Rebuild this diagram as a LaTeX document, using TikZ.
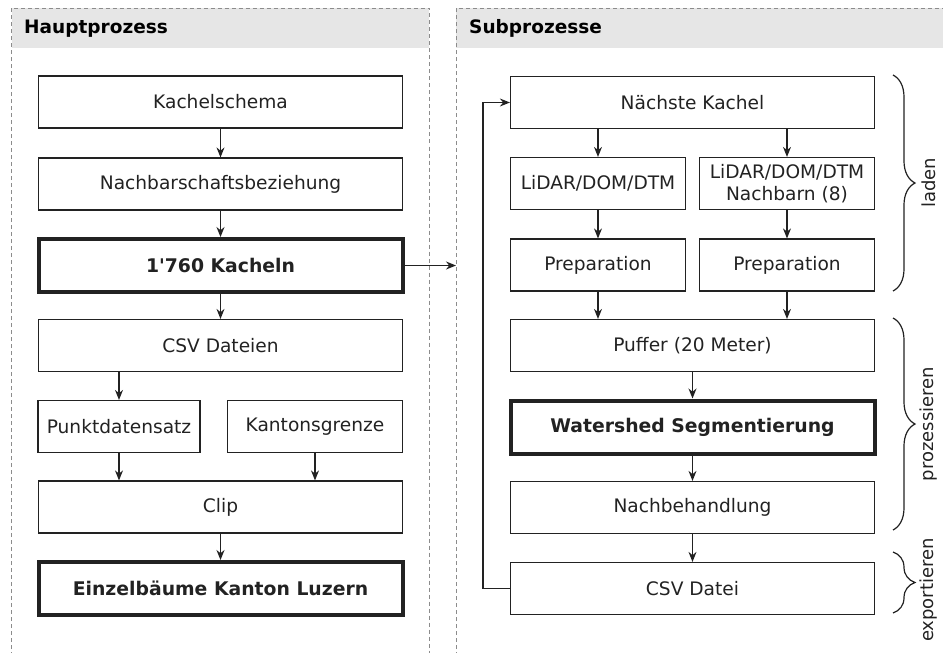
\documentclass[tikz,border=0pt]{standalone}
\usepackage{fontspec}
\setmainfont{DejaVu Sans}
\usetikzlibrary{arrows.meta, decorations.pathreplacing}

\definecolor{ink}{HTML}{222222}
\definecolor{headgray}{HTML}{E6E6E6}
\tikzset{
  box/.style={draw=ink, line width=1.2pt, minimum height=52pt, inner sep=0pt, text=ink, align=center, font=\fontsize{18.6}{22}\selectfont},
  mainbox/.style={box, line width=4pt, minimum height=53pt, font=\fontsize{18.8}{22}\selectfont\bfseries},
  flow/.style={-{Stealth[length=10pt,width=8pt]}, line width=1.3pt, ink},
  lane/.style={draw=black!45, dash pattern=on 4pt off 3pt, line width=0.8pt},
  lanetitle/.style={anchor=west, inner sep=0pt, text=black, font=\fontsize{18.5}{22}\selectfont\bfseries},
  phase/.style={decorate, decoration={brace, amplitude=22pt}, line width=1.2pt, ink},
  phasename/.style={rotate=90, inner sep=0pt, text=ink, font=\fontsize{18}{21}\selectfont},
}

\begin{document}
\begin{tikzpicture}[x=1pt, y=-1pt]
\useasboundingbox (0,0) rectangle (943,653);
\fill[headgray] (11.5,8) rectangle (429,48);
\fill[headgray] (456,8) rectangle (943,48);
\draw[lane] (11.5,670) -- (11.5,8) -- (429,8) -- (429,670);
\draw[lane] (456,670) -- (456,8) -- (960,8);
\node[lanetitle] (haupt) at (24,28.5) {Hauptprozess};
\node[lanetitle] (sub) at (469,28.5) {Subprozesse};

\node[box, minimum width=364pt] (kachel) at (220.5,102) {Kachelschema};
\node[box, minimum width=364pt] (nachbar) at (220.5,184) {Nachbarschaftsbeziehung};
\node[mainbox, minimum width=364pt] (kacheln) at (220.5,265.5) {1\textquotesingle760 Kacheln};
\node[box, minimum width=364pt] (csv) at (220.5,345.5) {CSV Dateien};
\node[box, minimum width=162pt] (punkt) at (119,426.5) {Punktdatensatz};
\node[box, minimum width=175pt] (kanton) at (315,426.5) {Kantonsgrenze};
\node[box, minimum width=364pt] (clip) at (220.5,507) {Clip};
\node[mainbox, minimum width=364pt] (baeume) at (220.5,588.5) {Einzelbäume Kanton Luzern};

\node[box, minimum width=364pt] (naechste) at (692.5,102.5) {Nächste Kachel};
\node[box, minimum width=175pt] (lidar) at (598,183.5) {LiDAR/DOM/DTM};
\node[box, minimum width=175pt] (nachbarn) at (787,183.5) {LiDAR/DOM/DTM\\Nachbarn (8)};
\node[box, minimum width=175pt] (prepa) at (598,265) {Preparation};
\node[box, minimum width=175pt] (prepb) at (787,265) {Preparation};
\node[box, minimum width=364pt] (puffer) at (692.5,345.5) {Puffer (20 Meter)};
\node[mainbox, minimum width=364pt] (watershed) at (692.5,427) {Watershed Segmentierung};
\node[box, minimum width=364pt] (nachbeh) at (692.5,507.5) {Nachbehandlung};
\node[box, minimum width=364pt] (csvdatei) at (692.5,588.5) {CSV Datei};

\draw[flow] (kachel) -- (nachbar);
\draw[flow] (nachbar) -- (kacheln);
\draw[flow] (kacheln) -- (csv);
\draw[flow] (csv.south -| punkt) -- (punkt);
\draw[flow] (punkt) -- (clip.north -| punkt);
\draw[flow] (kanton) -- (clip.north -| kanton);
\draw[flow] (clip) -- (baeume);
\coordinate (subin) at (456,265.5);
\draw[flow] (kacheln.east) -- (subin);

\draw[flow] (naechste.south -| lidar) -- (lidar);
\draw[flow] (naechste.south -| nachbarn) -- (nachbarn);
\draw[flow] (lidar) -- (prepa);
\draw[flow] (nachbarn) -- (prepb);
\draw[flow] (prepa) -- (puffer.north -| prepa);
\draw[flow] (prepb) -- (puffer.north -| prepb);
\draw[flow] (puffer) -- (watershed);
\draw[flow] (watershed) -- (nachbeh);
\draw[flow] (nachbeh) -- (csvdatei);
\draw[flow] (csvdatei.west) -- ++(-27,0) |- (naechste.west);

\draw[phase] (893,75) -- (893,291);
\draw[phase] (893,318) -- (893,530);
\draw[phase] (893,552) -- (893,613);
\node[phasename] (laden) at (929,183) {laden};
\node[phasename] (prozess) at (929,424) {prozessieren};
\node[phasename] (export) at (929,590) {exportieren};
\end{tikzpicture}
\end{document}
